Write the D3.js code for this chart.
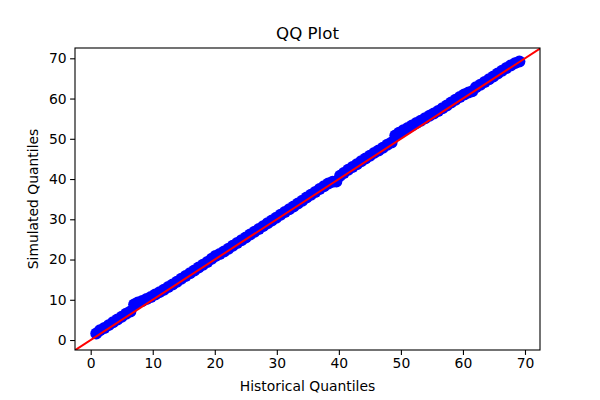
<!DOCTYPE html>
<html>
<head>
<meta charset="utf-8">
<script src="https://cdn.jsdelivr.net/npm/d3@7"></script>
<style>
  body { margin: 0; background: #fff; }
  svg { display: block; font-family: "DejaVu Sans", sans-serif; }
</style>
</head>
<body>
<svg id="chart" width="600" height="400"></svg>
<script>
const historical = [0.9,1.5,2.2,2.9,3.6,4.3,5.0,5.7,6.4,7.0,7.6,8.3,9.0,9.7,10.4,11.1,11.8,12.5,13.2,13.9,
  14.6,15.3,16.0,16.7,17.4,18.1,18.8,19.5,20.1,20.8,21.5,22.2,22.9,23.6,24.3,25.0,25.7,26.4,27.1,27.8,
  28.5,29.2,29.9,30.6,31.3,32.0,32.7,33.4,34.1,34.8,35.5,36.2,36.9,37.6,38.3,39.0,39.6,40.2,40.8,41.5,
  42.2,42.9,43.6,44.3,45.0,45.7,46.4,47.1,47.8,48.5,49.1,49.7,50.4,51.1,51.8,52.5,53.2,53.9,54.6,55.3,
  56.0,56.7,57.4,58.1,58.8,59.5,60.2,60.9,61.5,62.1,62.8,63.5,64.2,64.9,65.6,66.3,67.0,67.7,68.4,69.1];
const simulated = [1.6,2.4,3.0,3.7,4.4,5.1,5.8,6.5,7.1,8.8,9.3,9.7,10.2,10.7,11.3,11.9,12.5,13.2,13.8,14.5,
  15.2,15.9,16.6,17.3,18.0,18.7,19.4,20.2,20.9,21.4,22.0,22.7,23.4,24.1,24.8,25.5,26.2,26.9,27.6,28.3,
  29.0,29.7,30.4,31.1,31.8,32.5,33.2,33.9,34.6,35.4,36.1,36.8,37.5,38.2,38.9,39.3,39.4,40.8,41.5,42.3,
  43.0,43.7,44.4,45.1,45.8,46.5,47.1,47.8,48.5,49.1,50.8,51.5,52.1,52.7,53.3,53.9,54.5,55.1,55.7,56.3,
  56.9,57.6,58.3,59.0,59.7,60.4,61.0,61.5,61.8,62.8,63.4,64.1,64.8,65.5,66.2,66.9,67.6,68.2,68.8,69.2];
const xTicks = [0,10,20,30,40,50,60,70];
const yTicks = [0,10,20,30,40,50,60,70];
const titleText = "QQ Plot";
const xLabel = "Historical Quantiles";
const yLabel = "Simulated Quantiles";

const svg = d3.select("#chart");
const L = 75, R = 540, T = 48, B = 350;
const x = d3.scaleLinear().domain([-2.53, 72.42]).range([L, R]);
const y = d3.scaleLinear().domain([-2.48, 72.56]).range([B, T]);

svg.append("defs").append("clipPath").attr("id", "clip")
  .append("rect").attr("x", L).attr("y", T).attr("width", R - L).attr("height", B - T);

const pts = historical.map((h, i) => [h, simulated[i]]);
const plot = svg.append("g").attr("clip-path", "url(#clip)");
plot.selectAll("circle").data(pts).enter().append("circle")
  .attr("cx", d => x(d[0])).attr("cy", d => y(d[1])).attr("r", 6)
  .attr("fill", "#0000ff");

const lineDom = [-5, 80];
plot.append("line")
  .attr("x1", x(lineDom[0])).attr("y1", y(lineDom[0]))
  .attr("x2", x(lineDom[1])).attr("y2", y(lineDom[1]))
  .attr("stroke", "#ff0000").attr("stroke-width", 2);

const xAxis = d3.axisBottom(x).tickValues(xTicks).tickSize(4.9).tickPadding(3.5).tickFormat(d3.format("d"));
const gx = svg.append("g").attr("transform", `translate(0,${B})`).call(xAxis);
const yAxis = d3.axisLeft(y).tickValues(yTicks).tickSize(4.9).tickPadding(3.5).tickFormat(d3.format("d"));
const gy = svg.append("g").attr("transform", `translate(${L},0)`).call(yAxis);
[gx, gy].forEach(g => {
  g.select(".domain").remove();
  g.selectAll(".tick line").attr("stroke", "#000").attr("stroke-width", 1.1);
  g.selectAll(".tick text").attr("fill", "#000").style("font-size", "13.9px").style("font-family", "DejaVu Sans");
});

svg.append("rect").attr("x", L).attr("y", T).attr("width", R - L).attr("height", B - T)
  .attr("fill", "none").attr("stroke", "#000").attr("stroke-width", 1.1);

svg.append("text").attr("x", (L + R) / 2).attr("y", 39).attr("text-anchor", "middle")
  .style("font-size", "16.67px").text(titleText);
svg.append("text").attr("x", (L + R) / 2).attr("y", 391).attr("text-anchor", "middle")
  .style("font-size", "13.9px").text(xLabel);
svg.append("text").attr("transform", `translate(38,${(T + B) / 2}) rotate(-90)`).attr("text-anchor", "middle")
  .style("font-size", "13.9px").text(yLabel);
</script>
</body>
</html>
